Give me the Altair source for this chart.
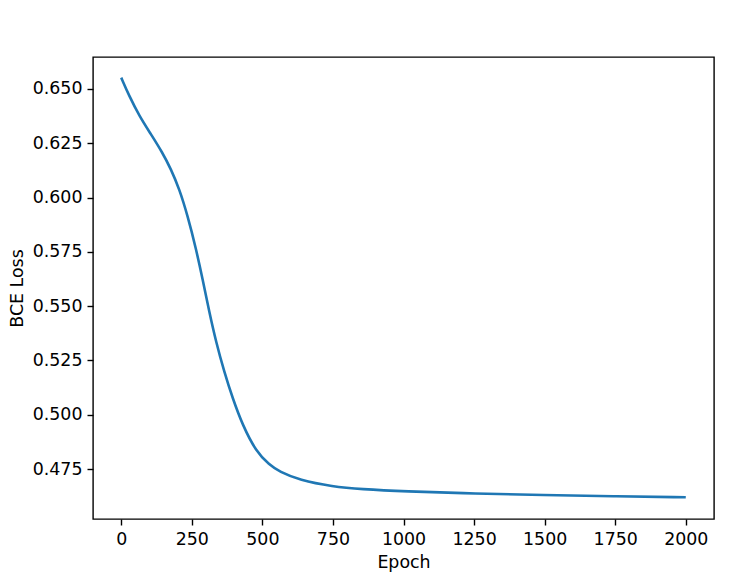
import altair as alt
import pandas as pd

epochs = [0, 28, 64, 105, 146, 176, 206, 235, 265, 288, 312, 336, 365, 395, 430,
          478, 525, 560, 631, 749, 850, 1000, 1258, 1494, 1742, 2000]
loss = [0.6552, 0.6468, 0.6376, 0.6292, 0.6207, 0.6131, 0.6039, 0.5917, 0.5764,
        0.5626, 0.5473, 0.5335, 0.5197, 0.5075, 0.4952, 0.4830, 0.4769, 0.4738,
        0.4699, 0.4669, 0.4657, 0.4647, 0.4637, 0.4630, 0.4625, 0.4620]
x_ticks = [0, 250, 500, 750, 1000, 1250, 1500, 1750, 2000]
y_ticks = [0.475, 0.5, 0.525, 0.55, 0.575, 0.6, 0.625, 0.65]

df = pd.DataFrame({"Epoch": epochs, "Loss": loss})

font = "DejaVu Sans"
fs = 17.4
axis_common = dict(
    grid=False, domain=False, tickColor="black", tickSize=6, tickWidth=1.4,
    labelColor="black", labelFont=font, labelFontSize=fs, labelPadding=5,
    titleColor="black", titleFont=font, titleFontSize=fs, titleFontWeight="normal",
)

chart = alt.Chart(df).mark_line(color="#1f77b4", strokeWidth=2.6, interpolate="basis").encode(
    x=alt.X("Epoch:Q", scale=alt.Scale(domain=[-100, 2100], nice=False, zero=False),
            axis=alt.Axis(values=x_ticks, format="d", title="Epoch",
                          titleY=48, titleBaseline="alphabetic", **axis_common)),
    y=alt.Y("Loss:Q", scale=alt.Scale(domain=[0.452, 0.6647], nice=False, zero=False),
            axis=alt.Axis(values=y_ticks, format=".3f", title="BCE Loss",
                          titleX=-70.3, titleY=231, titleAlign="center",
                          titleBaseline="alphabetic", **axis_common)),
).properties(
    width=621, height=462,
    autosize=alt.AutoSizeParams(type="none"),
    padding={"left": 85, "top": 49, "right": 20, "bottom": 55},
).configure_view(stroke="black", strokeWidth=1.4)

chart.save("out.html", embed_options={"renderer": "svg", "actions": False})
